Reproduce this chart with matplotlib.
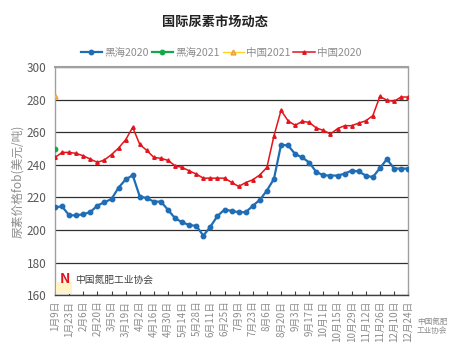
import matplotlib
matplotlib.use("Agg")
import matplotlib.pyplot as plt
import numpy as np

plt.rcParams['font.family'] = ['Noto Sans CJK SC', 'DejaVu Sans']

tick_labels = ["1月9日", "1月23日", "2月6日", "2月20日", "3月5日", "3月19日", "4月2日",
               "4月16日", "4月30日", "5月14日", "5月28日", "6月11日", "6月25日", "7月9日",
               "7月23日", "8月6日", "8月20日", "9月3日", "9月17日", "10月1日", "10月15日",
               "10月29日", "11月12日", "11月26日", "12月10日", "12月24日"]

heihai_2020 = [214, 214.4, 209, 209, 209.6, 211, 215, 217, 219, 226, 231, 233.6,
               220.5, 219.5, 217.4, 217.4, 212.3, 207.2, 204.7, 203, 202.5, 196.5, 202,
               208.6, 212.5, 211.7, 210.9, 210.9, 214.8, 218.5, 224.2, 231.4, 252.3, 251.9,
               246.6, 244.5, 241.4, 235.5, 233.6, 233.4, 233.4, 234.5, 236.5, 235.9, 233.4,
               232.4, 238, 243.5, 237.7, 237.7, 237.7]
china_2020 = [244.5, 247.6, 247.6, 247, 245.5, 243.5, 241.5, 243, 246.3, 250.3, 255.4, 263,
              252.5, 248.8, 244.5, 244, 242.7, 239.4, 238.4, 236.3, 234.3, 231.8, 231.8,
              231.8, 231.8, 229.2, 226.7, 229.1, 230.8, 233.8, 238.4, 257.8, 273.4, 267,
              264.2, 266.7, 266, 262.6, 261.1, 258.9, 262.2, 264, 264, 265.6, 267, 270.2,
              282, 279.6, 279, 281.6, 281.6]
heihai_2021 = [250]
china_2021 = [282.5]

fig = plt.figure(figsize=(4.51, 3.53), dpi=100)
ax = fig.add_axes([0.122, 0.164, 0.783, 0.646])

x = np.arange(len(heihai_2020))
blue = '#1F6DB4'
red = '#E3141B'
green = '#13A84A'
yellow = '#FFD21F'

ax.plot(x, heihai_2020, color=blue, lw=1.6, marker='o', ms=3.2, label='黑海2020', zorder=4)
ax.plot(np.arange(len(heihai_2021)), heihai_2021, color=green, lw=1.6, marker='o', ms=3.2,
        label='黑海2021', zorder=5)
ax.plot(np.arange(len(china_2021)), china_2021, color=yellow, lw=1.0, marker='^', ms=3.5,
        mec='#F0A030', mfc='#F5C060', label='中国2021', zorder=5)
ax.plot(x, china_2020, color=red, lw=1.1, marker='^', ms=2.5, label='中国2020', zorder=4)

ax.set_xlim(0, len(heihai_2020) - 1)
ax.set_ylim(160, 300)
ax.set_yticks(np.arange(160, 301, 20))
ax.set_xticks(np.arange(0, len(heihai_2020), 2))
ax.set_xticklabels(tick_labels, rotation=90, fontsize=7, color='#8C8C8C')
ax.tick_params(axis='y', labelsize=8.5, colors='#595959', length=0, pad=6)
ax.tick_params(axis='x', length=3, direction='in', color='#404040', pad=4)
for lbl in ax.get_yticklabels():
    lbl.set_color('#595959')

ax.yaxis.grid(True, color='#303030', lw=0.9)
ax.set_axisbelow(True)
for s in ['left', 'right', 'top']:
    ax.spines[s].set_color('#A0A0A0')
    ax.spines[s].set_linewidth(1.0)
ax.spines['top'].set_linewidth(1.5)
ax.spines['bottom'].set_color('#404040')
ax.spines['bottom'].set_linewidth(1.0)

ax.set_ylabel('尿素价格fob(美元/吨)', fontsize=8.5, color='#8C8C8C', labelpad=2)

fig.text(0.477, 0.937, '国际尿素市场动态', ha='center', va='center', fontsize=9.5,
         fontweight='bold', color='#222222')

leg = fig.legend(loc='center', bbox_to_anchor=(0.49, 0.85), ncol=4, frameon=False,
                 fontsize=7.6, handlelength=2.0, handletextpad=0.2, columnspacing=0.3,
                 labelcolor='#8C8C8C')

# watermark logos
ax.add_patch(plt.Rectangle((0.2, 160.5), 2.2, 7.5, color='#FFF3C8', zorder=5, lw=0))
ax.text(2.8, 166, '中国氮肥工业协会', fontsize=7, color='#404040', va='bottom', zorder=6)
ax.text(0.6, 165.5, 'N', fontsize=10, color='#E3141B', fontstyle='italic',
        fontweight='bold', va='bottom', zorder=6)
fig.text(0.958, 0.075, '中国氮肥\n工业协会', fontsize=5.5, color='#707070', ha='center',
         va='center', alpha=0.8, linespacing=1.1)

fig.savefig('out.png', dpi=100)
